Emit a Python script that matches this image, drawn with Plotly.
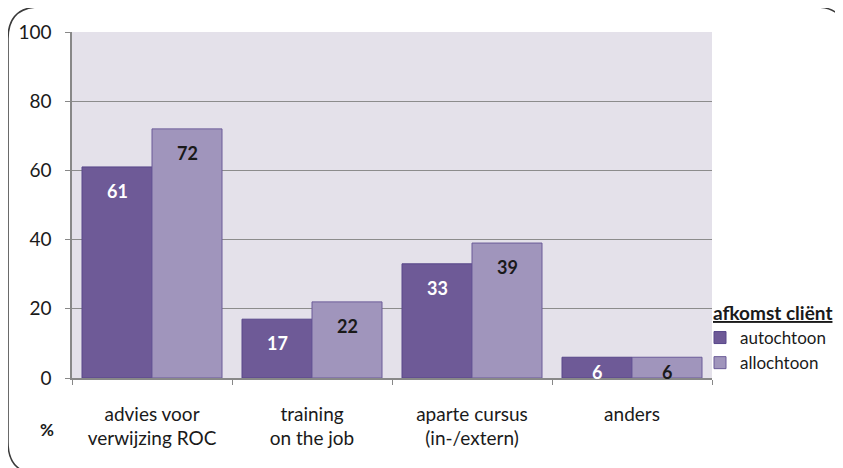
import plotly.graph_objects as go

categories = ["advies voor<br>verwijzing ROC", "training<br>on the job", "aparte cursus<br>(in-/extern)", "anders"]
autochtoon = [61, 17, 33, 6]
allochtoon = [72, 22, 39, 6]
series_names = ["autochtoon", "allochtoon"]
legend_title = "afkomst cliënt"
y_ticks = [0, 20, 40, 60, 80, 100]

# page has an 8px body margin: figure coordinates = page coordinates - 8
OFF = 8
W, H = 843 - OFF, 468 - OFF
ML, MR, MT, MB = 72 - OFF, 131, 32 - OFF, 90
FONT = "Lato, Open Sans, sans-serif"
FS = 19

fig = go.Figure()
fig.add_trace(go.Bar(x=categories, y=autochtoon, name=series_names[0],
                     marker=dict(color="#6E5A97", line=dict(color="#58478A", width=1))))
fig.add_trace(go.Bar(x=categories, y=allochtoon, name=series_names[1],
                     marker=dict(color="#A095BC", line=dict(color="#6A5B98", width=1))))

# value labels inside bars near top
for vals, xshift, col in [(autochtoon, -35, "white"), (allochtoon, 35, "#1a1a1a")]:
    for c, v in zip(categories, vals):
        fig.add_annotation(x=c, y=v, xref="x", yref="y", text=f"<b>{v}</b>",
                           showarrow=False, xshift=xshift,
                           yshift=-24 if v > 10 else -15,
                           font=dict(family=FONT, size=18, color=col))

pw, ph = W - ML - MR, H - MT - MB
def px(x): return (x - OFF - ML) / pw
def py(y): return (H - MB - (y - OFF)) / ph

# "%" label
fig.add_annotation(x=px(47), y=py(429), xref="paper", yref="paper", text="<b>%</b>",
                   showarrow=False, xanchor="center", yanchor="middle",
                   font=dict(family=FONT, size=17, color="#1a1a1a"))

# legend title
fig.add_annotation(x=px(711), y=py(312), xref="paper", yref="paper",
                   text=f"<b><u>{legend_title}</u></b>", showarrow=False,
                   xanchor="left", yanchor="middle",
                   font=dict(family=FONT, size=FS, color="#1a1a1a"))

# rounded chart border
x0, y0, x1, y1, r = 8, 7, 847, 474, 32
path = (f"M {px(x0)},{py(y0 + r)} Q {px(x0)},{py(y0)} {px(x0 + r)},{py(y0)} "
        f"L {px(x1 - r)},{py(y0)} Q {px(x1)},{py(y0)} {px(x1)},{py(y0 + r)} "
        f"L {px(x1)},{py(y1 - r)} Q {px(x1)},{py(y1)} {px(x1 - r)},{py(y1)} "
        f"L {px(x0 + r)},{py(y1)} Q {px(x0)},{py(y1)} {px(x0)},{py(y1 - r)} Z")
fig.add_shape(type="path", path=path, xref="paper", yref="paper",
              line=dict(color="#3a3a3a", width=1.5), layer="above")

fig.update_layout(
    width=W, height=H,
    margin=dict(l=ML, r=MR, t=MT, b=MB, autoexpand=False),
    paper_bgcolor="white", plot_bgcolor="#E4E1EA",
    barmode="group", bargap=0.125, bargroupgap=0,
    font=dict(family=FONT, size=FS, color="#1a1a1a"),
    showlegend=True,
    legend=dict(x=px(700), y=py(320), xanchor="left", yanchor="top",
                font=dict(size=17), tracegroupgap=0, itemwidth=30,
                bgcolor="rgba(0,0,0,0)"),
)
fig.update_xaxes(type="category", tickson="boundaries", ticks="outside", ticklen=5,
                 tickcolor="#888888", showline=True, linecolor="#888888", linewidth=1.5,
                 showgrid=False, tickfont=dict(size=FS), ticklabelstandoff=18)
fig.update_yaxes(range=[0, 100], tickvals=y_ticks, ticks="outside", ticklen=5,
                 tickcolor="#888888", showline=True, linecolor="#888888", linewidth=1.5,
                 showgrid=True, gridcolor="#8C8C8C", gridwidth=1, zeroline=False,
                 tickfont=dict(size=FS), ticklabelstandoff=10)

fig.write_html("out.html")
